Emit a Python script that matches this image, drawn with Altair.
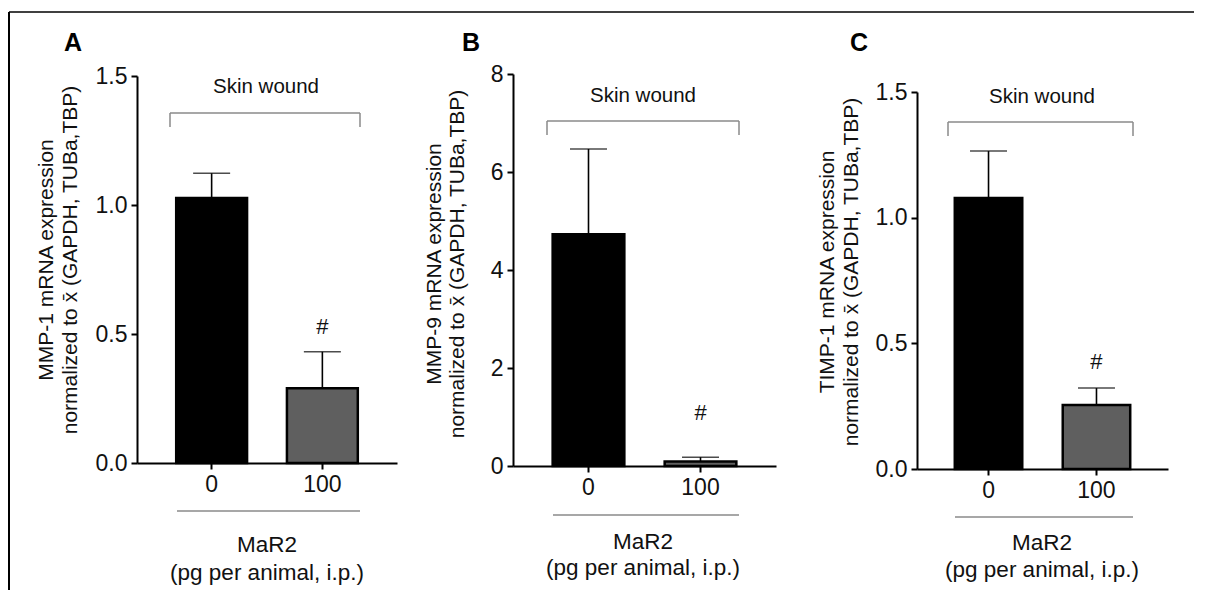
import altair as alt
import pandas as pd

FONT = "Liberation Sans, Arial, Helvetica, sans-serif"

doses = ["0", "100"]

mmp1_mean = [1.027, 0.290]
mmp1_upper = [1.123, 0.431]
mmp9_mean = [4.73, 0.09]
mmp9_upper = [6.47, 0.18]
timp1_mean = [1.078, 0.255]
timp1_upper = [1.265, 0.322]

hash_text = ["", "#"]
mmp1_hash_y = [0.0, 0.527]
mmp9_hash_y = [0.0, 1.08]
timp1_hash_y = [0.0, 0.426]

ticks_a = [0, 0.5, 1.0, 1.5]
ticks_b = [0, 2, 4, 6, 8]
ticks_c = [0, 0.5, 1.0, 1.5]

title_line2 = "normalized to x\u0304 (GAPDH, TUBa,TBP)"
group_label = "Skin wound"
xlab1 = "MaR2"
xlab2 = "(pg per animal, i.p.)"


def one(text):
    return pd.DataFrame({"t": [text]})


def txt(text, x, y, size, angle=0, weight="normal", color="#111111"):
    return alt.Chart(one(text)).mark_text(
        font=FONT, fontSize=size, angle=angle, fontWeight=weight,
        align="center", baseline="middle", color=color
    ).encode(x=alt.value(x), y=alt.value(y), text="t:N")


def hrule(x1, x2, y, color="#8a8a8a", w=1.5):
    return alt.Chart(one("r")).mark_rule(color=color, strokeWidth=w).encode(
        x=alt.value(x1), x2=alt.value(x2), y=alt.value(y))


def vrule(x, y1, y2, color="#8a8a8a", w=1.5):
    return alt.Chart(one("r")).mark_rule(color=color, strokeWidth=w).encode(
        x=alt.value(x), y=alt.value(y1), y2=alt.value(y2))


def panel(letter, p, means, uppers, hash_y, ticks, fmt, line1):
    df = pd.DataFrame({"dose": doses, "mean": means, "upper": uppers,
                       "hash": hash_y, "htxt": hash_text})
    xs = alt.Scale(range=[0, p["w"]], paddingInner=p["pi"], paddingOuter=p["po"])
    xenc = alt.X("dose:N", sort=doses, scale=xs,
                 axis=alt.Axis(title=None, labelAngle=0, labelPadding=4))
    ys = alt.Scale(domain=[0, p["dmax"]], range=[p["h"], p["top"]], nice=False, zero=True)
    yax = alt.Axis(title=None, values=ticks, format=fmt, labelPadding=4)
    base = alt.Chart(df)
    bars = base.mark_bar(stroke="black", strokeWidth=2.5).encode(
        x=xenc,
        y=alt.Y("mean:Q", scale=ys, axis=yax),
        fill=alt.Fill("dose:N", sort=doses,
                      scale=alt.Scale(domain=doses, range=["#000000", "#5f5f5f"]),
                      legend=None),
    )
    err = base.mark_rule(color="black", strokeWidth=1.6).encode(
        x=xenc, y=alt.Y("mean:Q", scale=ys, axis=yax), y2="upper:Q")
    cap = base.mark_tick(color="black", size=37, thickness=1.6).encode(
        x=xenc, y=alt.Y("upper:Q", scale=ys, axis=yax))
    hsh = base.mark_text(font=FONT, fontSize=22, color="#111111", baseline="middle").encode(
        x=xenc, y=alt.Y("hash:Q", scale=ys, axis=yax), text="htxt:N")

    layers = [err, bars, cap, hsh]
    layers.append(txt(letter, p["lx"], -31, 25, weight="bold", color="black"))
    layers.append(txt(line1, p["t1"], p["ty"], 21, angle=270))
    layers.append(txt(title_line2, p["t2"], p["ty"], 21, angle=270))
    b = p["br"]
    layers.append(txt(group_label, p["gx"], b[3], 20.5))
    layers.append(hrule(b[0], b[1], b[2]))
    layers.append(vrule(b[0], b[2], b[4]))
    layers.append(vrule(b[1], b[2], b[4]))
    u = p["ul"]
    layers.append(hrule(u[0], u[1], u[2]))
    layers.append(txt(xlab1, p["gx2"], p["m1"], 22.5))
    layers.append(txt(xlab2, p["gx2"], p["m2"], 22.5))
    if "border" in p:
        layers.append(hrule(-128, 1057, -62, color="black", w=1.5))
        layers.append(vrule(-128, -62, 516, color="black", w=2))
    return alt.layer(*layers).properties(width=p["cw"], height=p["h"])


pa = dict(w=260, pi=0.36, po=0.354, h=389, top=2, dmax=1.5, cw=376,
          lx=-64, t1=-90, t2=-66, ty=186, gx=129, gx2=130,
          br=(33, 223, 39, 13, 53), ul=(40, 223, 437), m1=471, m2=499, border=True)
pb = dict(w=263, pi=0.36, po=0.354, h=392, top=0, dmax=8, cw=404,
          lx=-42, t1=-78, t2=-55, ty=190, gx=130, gx2=130,
          br=(34, 226, 47, 22, 61), ul=(40, 226, 441), m1=468, m2=494)
pc = dict(w=251, pi=0.375, po=0.35, h=395, top=18, dmax=1.5, cw=251,
          lx=-58, t1=-89, t2=-65, ty=198, gx=125, gx2=125,
          br=(31, 216, 48, 23, 62), ul=(38, 216, 443), m1=469, m2=496)

A = panel("A", pa, mmp1_mean, mmp1_upper, mmp1_hash_y, ticks_a, ".1f", "MMP-1 mRNA expression")
B = panel("B", pb, mmp9_mean, mmp9_upper, mmp9_hash_y, ticks_b, "d", "MMP-9 mRNA expression")
C = panel("C", pc, timp1_mean, timp1_upper, timp1_hash_y, ticks_c, ".1f", "TIMP-1 mRNA expression")

chart = alt.hconcat(A, B, C, spacing=0, bounds="flush").properties(
    padding={"left": 0, "top": 3, "right": 0, "bottom": 0}
).configure_view(stroke=None).configure_axis(
    labelFont=FONT, labelFontSize=23, labelColor="#111111",
    domainColor="black", domainWidth=2, tickColor="black", tickWidth=2,
    tickSize=6, grid=False
)

chart.save("out.html", embed_options={"renderer": "svg", "actions": False})
